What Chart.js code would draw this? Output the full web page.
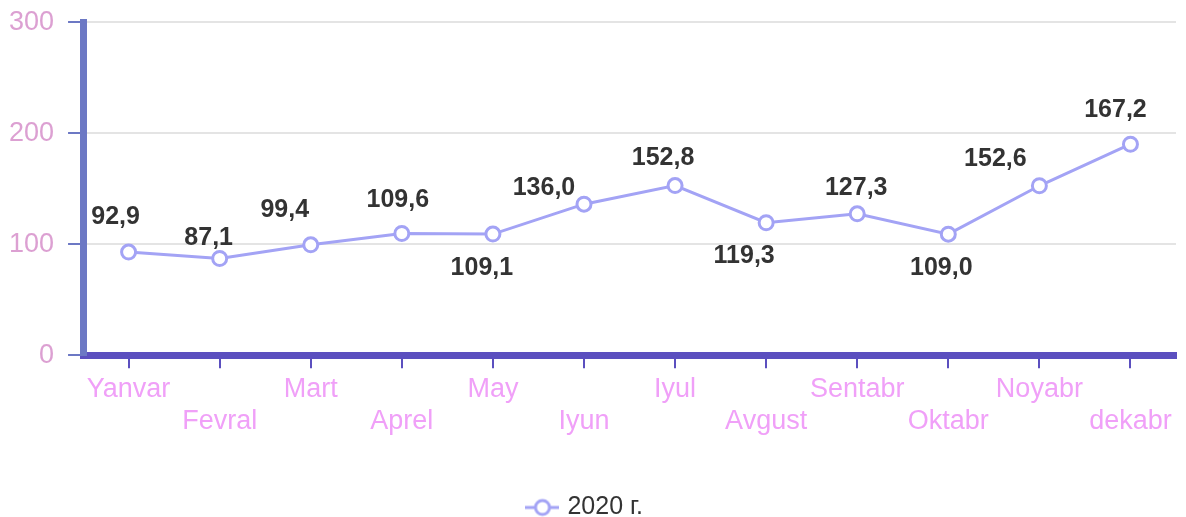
<!DOCTYPE html>
<html lang="en">
<head>
    <meta charset="UTF-8">
    <title>2020 г.</title>
    <script src="https://cdn.jsdelivr.net/npm/chart.js"></script>
    <style>
        html, body {
            margin: 0;
            padding: 0;
            background: #fff;
        }
        .chart-box {
            width: 1186px;
            height: 517px;
        }
    </style>
</head>
<body>
    <div class="chart-box">
        <canvas id="chart"></canvas>
    </div>

    <script>
        // Data
        const months = [
            'Yanvar', 'Fevral', 'Mart', 'Aprel', 'May', 'Iyun',
            'Iyul', 'Avgust', 'Sentabr', 'Oktabr', 'Noyabr', 'dekabr'
        ];
        // plotted positions of the points
        const values2020 = [92.9, 87.1, 99.4, 109.6, 109.1, 136.0, 152.8, 119.3, 127.3, 109.0, 152.6, 190.0];
        // the numbers printed beside the points
        const valueLabels = ['92,9', '87,1', '99,4', '109,6', '109,1', '136,0', '152,8', '119,3', '127,3', '109,0', '152,6', '167,2'];
        const yTicks = [0, 100, 200, 300];
        const seriesName = '2020 г.';

        const lineColor = '#a3a3f5';
        const fontFamily = "'Liberation Sans', Arial, sans-serif";

        // where each value label sits relative to its point (hand placed in the original)
        const labelOffsets = [
            [-13, -35], [-11, -20], [-26, -35], [-4, -33], [-11, 34], [-40, -16],
            [-12, -27], [-22, 33], [-1, -26], [-7, 34], [-44, -27], [-15, -34]
        ];

        // months alternate between two rows under the axis
        const tickRows = months.map((m, i) => i % 2 === 0 ? [m] : ['', m]);

        // little "line through a circle" marker for the legend
        function legendMarker() {
            const c = document.createElement('canvas');
            c.width = 34;
            c.height = 20;
            const ctx = c.getContext('2d');
            ctx.strokeStyle = lineColor;
            ctx.lineWidth = 3;
            ctx.beginPath();
            ctx.moveTo(0, 10);
            ctx.lineTo(34, 10);
            ctx.stroke();
            ctx.beginPath();
            ctx.arc(17, 10, 7, 0, Math.PI * 2);
            ctx.fillStyle = '#fff';
            ctx.fill();
            ctx.stroke();
            return c;
        }
        const marker = legendMarker();

        const valueLabelPlugin = {
            id: 'valueLabels',
            afterDatasetsDraw(chart) {
                const ctx = chart.ctx;
                const meta = chart.getDatasetMeta(0);
                ctx.save();
                ctx.font = 'bold 25px ' + fontFamily;
                ctx.fillStyle = '#333333';
                ctx.textAlign = 'center';
                ctx.textBaseline = 'middle';
                meta.data.forEach((pt, i) => {
                    const off = labelOffsets[i];
                    ctx.fillText(valueLabels[i], pt.x + off[0], pt.y + off[1]);
                });
                ctx.restore();
            }
        };

        new Chart(document.getElementById('chart'), {
            type: 'line',
            data: {
                labels: tickRows,
                datasets: [{
                    label: seriesName,
                    data: values2020,
                    borderColor: lineColor,
                    backgroundColor: '#ffffff',
                    borderWidth: 3,
                    pointRadius: 7,
                    pointBorderWidth: 3,
                    pointBackgroundColor: '#ffffff',
                    pointBorderColor: lineColor,
                    tension: 0
                }]
            },
            options: {
                responsive: true,
                maintainAspectRatio: false,
                animation: false,
                layout: {
                    padding: { top: 2, right: 8, left: -5, bottom: -13 }
                },
                plugins: {
                    legend: {
                        position: 'bottom',
                        labels: {
                            usePointStyle: true,
                            padding: 7,
                            color: '#333333',
                            font: { family: fontFamily, size: 25 },
                            generateLabels(chart) {
                                return [{
                                    text: seriesName,
                                    pointStyle: marker,
                                    fillStyle: '#fff',
                                    strokeStyle: lineColor,
                                    lineWidth: 3,
                                    hidden: false,
                                    datasetIndex: 0,
                                    fontColor: '#333333'
                                }];
                            }
                        }
                    },
                    tooltip: { enabled: false }
                },
                scales: {
                    x: {
                        offset: true,
                        border: { color: '#5b4fbf', width: 7 },
                        grid: {
                            drawOnChartArea: false,
                            tickColor: '#5b4fbf',
                            tickLength: 13,
                            lineWidth: 2
                        },
                        ticks: {
                            autoSkip: false,
                            maxRotation: 0,
                            color: '#f0a0f8',
                            padding: 5,
                            font: { family: fontFamily, size: 27, lineHeight: 1.2 }
                        },
                        afterFit(scale) {
                            // empty band between the month names and the legend
                            scale.height += 45;
                        }
                    },
                    y: {
                        min: 0,
                        max: 300,
                        border: { color: '#6c78c4', width: 7 },
                        grid: {
                            color: '#e4e4e4',
                            lineWidth: 2,
                            tickColor: '#6c78c4',
                            tickLength: 15
                        },
                        afterBuildTicks(scale) {
                            scale.ticks = yTicks.map(v => ({ value: v }));
                        },
                        ticks: {
                            color: '#dca0d2',
                            padding: 14,
                            font: { family: fontFamily, size: 27, lineHeight: 0.6 }
                        }
                    }
                }
            },
            plugins: [valueLabelPlugin]
        });
    </script>
</body>
</html>
